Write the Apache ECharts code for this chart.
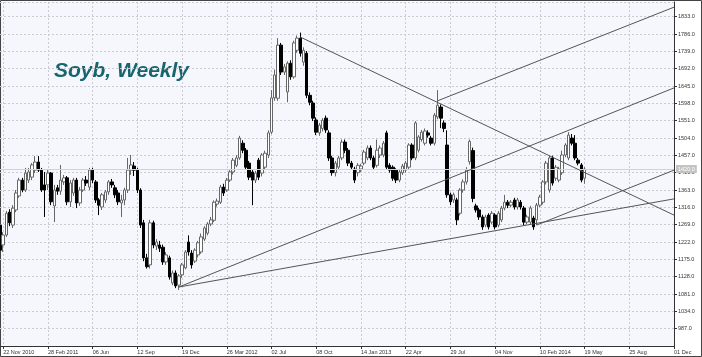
<!DOCTYPE html>
<html><head><meta charset="utf-8">
<script src="https://cdn.jsdelivr.net/npm/echarts@6/dist/echarts.min.js"></script>
<style>html,body{margin:0;padding:0;background:#fff}#c{width:702px;height:357px}</style>
</head><body><div id="c"></div>
<script>
const xTickLabels = ["22 Nov 2010","28 Feb 2011","06 Jun","12 Sep","19 Dec","26 Mar 2012","02 Jul","08 Oct","14 Jan 2013","22 Apr","29 Jul","04 Nov","10 Feb 2014","19 May","25 Aug","01 Dec"];
const opens  = [1268,1214,1241,1303,1268,1309,1347,1390,1363,1390,1398,1417,1439,1417,1377,1377,1409,1320,1369,1360,1385,1396,1331,1355,1390,1328,1363,1390,1371,1417,1385,1336,1317,1336,1358,1385,1369,1355,1328,1336,1363,1417,1428,1417,1363,1274,1179,1160,1274,1211,1214,1208,1168,1179,1111,1138,1105,1133,1152,1222,1192,1170,1187,1195,1230,1246,1271,1281,1325,1330,1371,1363,1390,1412,1430,1450,1490,1471,1436,1412,1390,1444,1409,1425,1458,1520,1613,1612,1756,1683,1629,1707,1670,1742,1775,1710,1734,1620,1599,1553,1518,1530,1558,1518,1450,1410,1425,1450,1493,1471,1436,1420,1410,1420,1436,1450,1477,1450,1430,1458,1458,1518,1430,1425,1417,1390,1410,1417,1425,1485,1450,1471,1500,1490,1518,1504,1490,1561,1588,1545,1485,1350,1336,1336,1300,1363,1385,1440,1470,1320,1309,1290,1268,1295,1276,1295,1268,1282,1314,1330,1322,1336,1317,1330,1314,1276,1276,1287,1282,1322,1330,1385,1363,1450,1395,1390,1410,1458,1450,1504,1490,1444,1431,1395];
const closes = [1200,1241,1300,1274,1314,1355,1390,1363,1409,1412,1431,1439,1417,1363,1363,1409,1331,1363,1360,1390,1396,1331,1382,1390,1328,1363,1390,1382,1417,1390,1336,1322,1350,1358,1385,1377,1350,1331,1336,1363,1417,1431,1417,1363,1268,1179,1155,1274,1214,1222,1205,1168,1187,1127,1138,1103,1130,1160,1195,1195,1160,1200,1220,1236,1260,1271,1282,1330,1333,1371,1355,1390,1412,1444,1450,1504,1471,1425,1398,1390,1409,1398,1458,1463,1518,1613,1675,1756,1683,1697,1707,1670,1762,1775,1734,1742,1620,1601,1558,1520,1539,1552,1526,1450,1410,1436,1450,1493,1471,1436,1425,1390,1430,1428,1466,1477,1450,1425,1471,1477,1490,1425,1417,1395,1390,1412,1428,1436,1485,1450,1545,1507,1520,1523,1512,1490,1566,1593,1558,1530,1350,1331,1350,1282,1363,1385,1417,1495,1340,1309,1290,1263,1290,1263,1300,1263,1300,1314,1330,1322,1330,1317,1336,1317,1276,1290,1314,1263,1322,1344,1385,1436,1450,1382,1425,1420,1458,1485,1512,1490,1450,1436,1390,1420];
const lows   = [1195,1195,1236,1265,1260,1303,1342,1357,1358,1382,1390,1409,1412,1358,1290,1363,1322,1276,1350,1350,1377,1322,1317,1347,1314,1320,1358,1374,1363,1382,1328,1295,1309,1328,1350,1369,1341,1322,1290,1322,1355,1404,1401,1355,1260,1170,1150,1150,1205,1200,1195,1160,1160,1120,1105,1097,1092,1125,1148,1185,1150,1165,1180,1190,1225,1240,1265,1276,1318,1325,1347,1358,1385,1405,1425,1445,1463,1418,1390,1322,1382,1390,1400,1418,1450,1515,1605,1605,1675,1675,1601,1662,1665,1735,1725,1700,1612,1593,1550,1512,1510,1522,1518,1442,1402,1400,1418,1444,1463,1428,1418,1382,1400,1412,1430,1444,1444,1418,1424,1450,1452,1418,1410,1388,1382,1384,1404,1410,1418,1444,1444,1465,1494,1484,1505,1484,1484,1555,1531,1520,1342,1322,1328,1268,1294,1356,1378,1432,1330,1302,1282,1255,1262,1256,1270,1256,1262,1276,1308,1314,1316,1310,1310,1310,1268,1270,1270,1255,1268,1316,1324,1378,1356,1375,1388,1384,1404,1452,1444,1484,1444,1430,1384,1380];
const highs  = [1276,1249,1306,1311,1322,1363,1396,1396,1423,1423,1436,1455,1455,1423,1412,1417,1412,1377,1377,1431,1404,1401,1390,1396,1396,1371,1396,1401,1423,1423,1390,1341,1355,1363,1390,1393,1377,1363,1350,1369,1450,1458,1439,1423,1368,1282,1190,1282,1280,1230,1225,1215,1195,1185,1145,1145,1135,1165,1200,1240,1200,1205,1225,1245,1265,1276,1290,1335,1340,1377,1380,1396,1417,1450,1458,1510,1498,1477,1442,1418,1415,1450,1463,1470,1525,1634,1690,1775,1762,1705,1712,1715,1768,1782,1790,1750,1740,1628,1605,1560,1545,1558,1565,1525,1456,1442,1456,1500,1500,1477,1442,1426,1436,1434,1472,1484,1484,1456,1500,1484,1496,1524,1436,1430,1422,1418,1434,1442,1490,1490,1550,1512,1526,1530,1525,1510,1572,1634,1595,1552,1525,1356,1356,1342,1368,1392,1425,1500,1478,1326,1315,1296,1296,1300,1306,1300,1306,1320,1350,1336,1336,1342,1342,1336,1320,1296,1320,1293,1328,1350,1390,1442,1456,1456,1431,1426,1470,1490,1520,1515,1512,1450,1436,1425];
const lastPrice = 1420;
// trend lines: [startIndex, startPrice, endIndex, endPrice]
const trendLines = [
  [56,1100,211,1640],
  [56,1100,211,1339],
  [168,1268,211,1417],
  [137,1605,211,1859],
  [94,1778,211,1295]
];

const N = 212;
const MON = ["Jan","Feb","Mar","Apr","May","Jun","Jul","Aug","Sep","Oct","Nov","Dec"];
const categories = [];
for (let i = 0; i < N; i++) {
  const d = new Date(Date.UTC(2010, 10, 15) + i * 7 * 86400000);
  categories.push(String(d.getUTCDate()).padStart(2,'0') + ' ' + MON[d.getUTCMonth()] + ' ' + d.getUTCFullYear());
}
const candleData = opens.map((o, i) => [o, closes[i], lows[i], highs[i]]);
const isTick = (idx) => idx >= 1 && (idx - 1) % 14 === 0;

const chart = echarts.init(document.getElementById('c'), null, {renderer: 'canvas'});
const lineSeries = trendLines.map(t => ({
  type: 'line', data: [[t[0], t[1]], [t[2], t[3]]], showSymbol: false, silent: true,
  lineStyle: {color: '#555', width: 1}, z: 5, animation: false
}));
chart.setOption({
  animation: false,
  backgroundColor: '#ffffff',
  grid: {left: 0, right: 28, top: 2, bottom: 11, show: true, backgroundColor: '#f6f7fc', borderWidth: 0},
  xAxis: {
    type: 'category', data: categories, boundaryGap: false,
    axisLine: {show: true, lineStyle: {color: '#333', width: 1}},
    axisTick: {show: true, interval: isTick, length: 3, lineStyle: {color: '#333'}},
    axisLabel: {interval: isTick, fontSize: 5.5, color: '#333', align: 'left', margin: 3,
      fontFamily: 'Liberation Sans',
      formatter: (v, idx) => xTickLabels[(idx - 1) / 14] || ''},
    splitLine: {show: true, interval: isTick, lineStyle: {color: '#c9cad2', type: [2, 2], width: 1}}
  },
  yAxis: {
    type: 'value', position: 'right', min: 940, max: 1873, interval: 47, scale: true,
    axisLine: {show: true, lineStyle: {color: '#333', width: 1}},
    axisTick: {show: true, length: 3, lineStyle: {color: '#333'}},
    axisLabel: {fontSize: 5.5, color: '#333', margin: 4, fontFamily: 'Liberation Sans',
      showMinLabel: false, showMaxLabel: false, formatter: v => v.toFixed(1)},
    splitLine: {show: true, lineStyle: {color: '#c9cad2', type: [2, 2], width: 1}}
  },
  series: [{
    type: 'candlestick', data: candleData, barWidth: 3,
    itemStyle: {color: '#ffffff', color0: '#000000', borderColor: '#666666', borderColor0: '#000000', borderWidth: 1},
    markLine: {
      silent: true, symbol: 'none', animation: false,
      lineStyle: {color: '#d2d2d6', type: 'solid', width: 1},
      label: {show: true, position: 'end', formatter: lastPrice.toFixed(1), backgroundColor: '#c3c3c3',
        color: '#ffffff', fontSize: 5.5, padding: [1, 2, 1, 2], distance: 2, fontFamily: 'Liberation Sans'},
      data: [{yAxis: lastPrice}]
    }
  }].concat(lineSeries),
  graphic: [
    {type: 'text', left: 54, top: 61, style: {text: 'Soyb, Weekly', font: 'italic bold 21px "Liberation Sans"', fill: '#17656f'}},
    {type: 'rect', shape: {x: 0.5, y: 0.5, width: 701, height: 356}, style: {fill: 'none', stroke: '#444', lineWidth: 1}, silent: true}
  ]
});
</script></body></html>
